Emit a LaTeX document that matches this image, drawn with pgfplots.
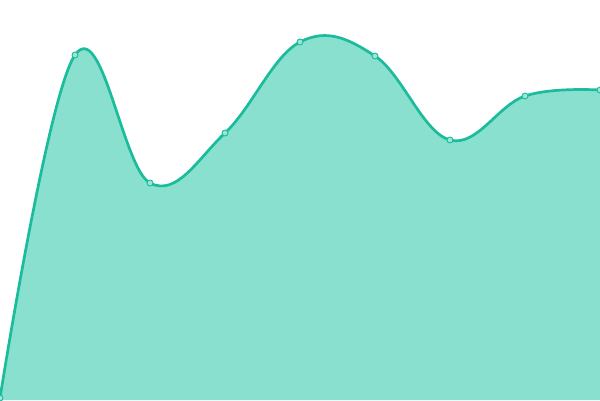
\documentclass[border=0pt]{standalone}
\usepackage{pgfplots}
\pgfplotsset{compat=1.18}
\definecolor{lineC}{HTML}{1ABC9C}
\definecolor{fillC}{HTML}{89E0CF}
\definecolor{markF}{HTML}{9DE6D6}
\begin{document}
\begin{tikzpicture}
\clip (0,0) rectangle (600pt,400pt);
\begin{axis}[
  scale only axis, width=600pt, height=400pt,
  xmin=0, xmax=600, ymin=0, ymax=400,
  hide axis, clip=false,
]
\addplot[draw=none, fill=fillC, smooth, tension=0.65] coordinates {
(0,2) (75,345) (150,217) (225,267) (300,358) (375,344) (450,260) (525,304) (600,310)
} \closedcycle;
\addplot[lineC, line width=2.7pt, smooth, tension=0.65, mark=*, mark size=3pt,
  mark options={fill=markF, draw=lineC, line width=0.9pt}] coordinates {
(0,2) (75,345) (150,217) (225,267) (300,358) (375,344) (450,260) (525,304) (600,310)
};
\end{axis}
\end{tikzpicture}
\end{document}
